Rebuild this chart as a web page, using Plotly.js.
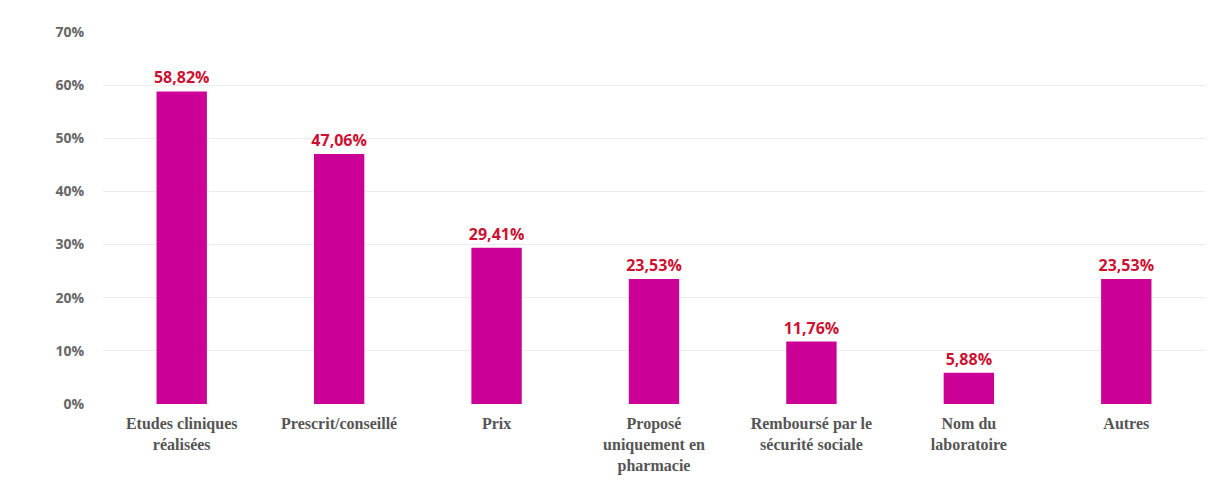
<!DOCTYPE html>
<html><head><meta charset="utf-8">
<script src="https://cdn.plot.ly/plotly-3.0.1.min.js"></script>
<style>body{margin:0;background:#fff}#c{width:1209px;height:488px}</style>
</head><body><div id="c"></div>
<script>
const categories = ["Etudes cliniques<br>réalisées", "Prescrit/conseillé", "Prix", "Proposé<br>uniquement en<br>pharmacie", "Remboursé par le<br>sécurité sociale", "Nom du<br>laboratoire", "Autres"];
const values = [0.5882, 0.4706, 0.2941, 0.2353, 0.1176, 0.0588, 0.2353];
const yTicks = [0, 0.1, 0.2, 0.3, 0.4, 0.5, 0.6, 0.7];

Plotly.newPlot('c', [{
  type: 'bar', x: categories, y: values,
  marker: {color: '#cc0096'},
  texttemplate: '%{y:.2%}', textposition: 'outside', cliponaxis: false, constraintext: 'none',
  textfont: {family: 'Open Sans, sans-serif', size: 16, color: '#cc1133', weight: 'bold'}
}], {
  width: 1209, height: 488,
  margin: {l: 103, r: 4, t: 32, b: 84},
  separators: ', ',
  bargap: 0.68,
  showlegend: false,
  paper_bgcolor: '#fff', plot_bgcolor: '#fff',
  xaxis: {tickfont: {family: 'Liberation Serif, serif', size: 16, color: '#555', weight: 'bold'}, showline: false, ticks: '', ticklabelstandoff: 8},
  yaxis: {range: [0, 0.7], tickvals: yTicks, tickformat: '.0%', gridcolor: '#ececec', zeroline: false,
    ticklabelstandoff: 18,
    tickfont: {family: 'Open Sans, sans-serif', size: 14, color: '#666', weight: 'bold'}}
}, {displayModeBar: false, staticPlot: true});
</script></body></html>
